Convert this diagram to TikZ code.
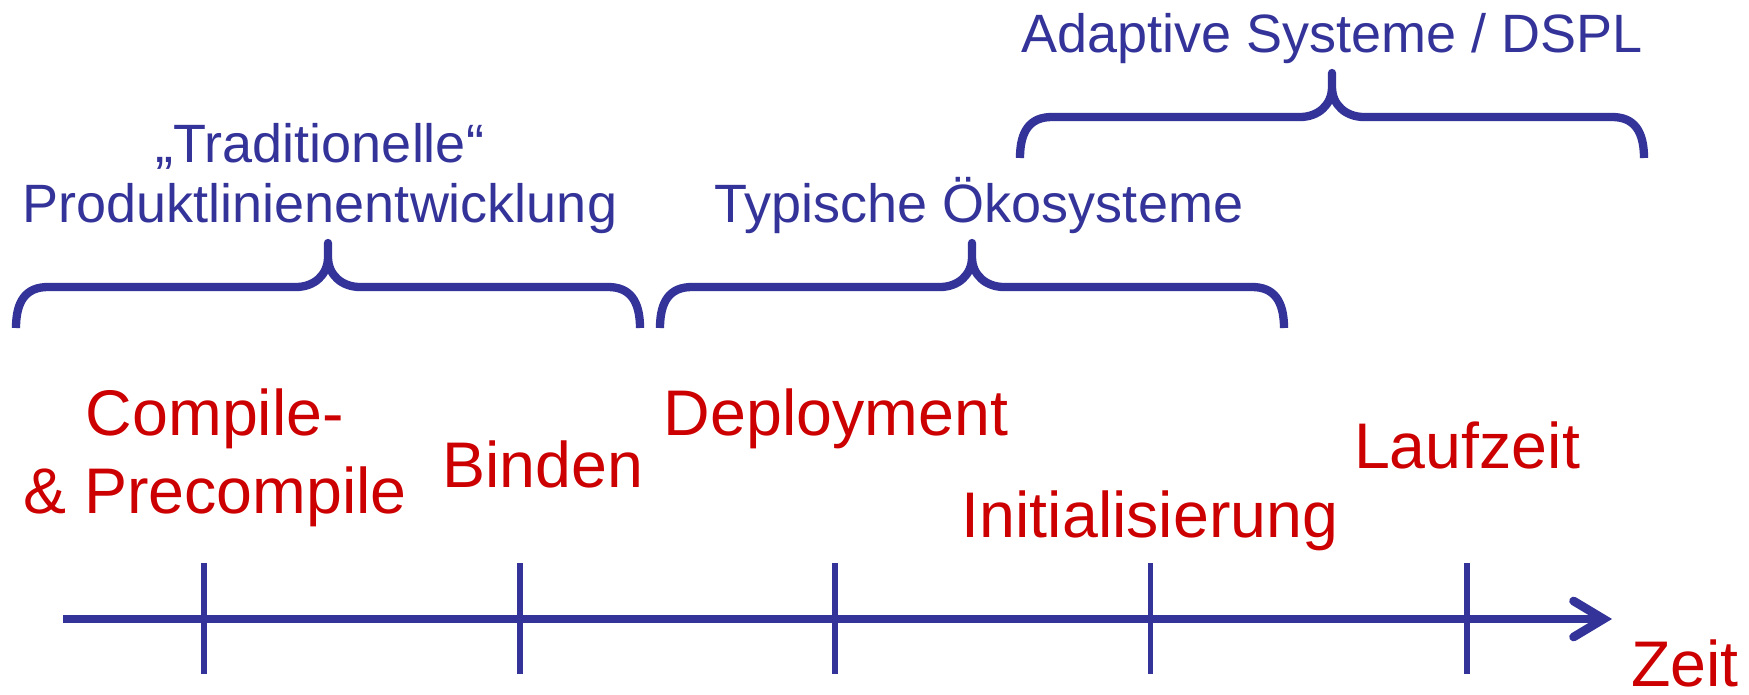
\documentclass[tikz,border=0pt]{standalone}
\usepackage{fontspec}
\setmainfont{Liberation Sans}
\usetikzlibrary{arrows.meta}
\definecolor{axisblue}{RGB}{51,51,153}
\definecolor{phasered}{RGB}{204,0,0}

\begin{document}
\begin{tikzpicture}[x=1pt,y=-1pt,
  phase/.style={text=phasered, font=\fontsize{64.5}{78}\selectfont,
    inner sep=0pt, anchor=base, align=center},
  scopelabel/.style={text=axisblue, font=\fontsize{54}{60}\selectfont,
    inner sep=0pt, anchor=base, align=center},
  axisline/.style={draw=axisblue, line width=8.7pt},
  tickline/.style={draw=axisblue, line width=5.5pt},
  bracestroke/.style={draw=axisblue, line width=8.3pt, line join=round},
  curlybrace/.pic={
    \draw[bracestroke]
      (-312,41) .. controls (-312,14) and (-302,0) .. (-280,0)
      -- (-32,0) .. controls (-14,0) and (0,-12) .. (0,-30)
      -- (0,-44) -- (0,-30)
      .. controls (0,-12) and (14,0) .. (32,0)
      -- (280,0) .. controls (302,0) and (312,14) .. (312,41);
  }]
  \useasboundingbox (0,0) rectangle (1749,694);

  % time axis with its ticks
  \coordinate (axstart) at (63,619);
  \coordinate (axend) at (1612,619);
  \draw[axisline, -{Straight Barb[length=30pt,width=36pt,line cap=round]}]
    (axstart) -- (axend);
  \foreach \tx in {204,520,835,1150.5,1467}
    \draw[tickline] (\tx,563) -- (\tx,674);

  % binding times (base = baseline of the last line)
  \node[phase] (comp) at (215,513) {Compile-\\\& Precompile};
  \node[phase] (bind) at (543,487) {Binden};
  \node[phase] (depl) at (836,435) {Deployment};
  \node[phase] (init) at (1150,537) {Initialisierung};
  \node[phase] (lauf) at (1467,468) {Laufzeit};
  \node[phase] (zeit) at (1685,686) {Zeit};

  % ranges covered by the approaches
  \pic at (328,287) {curlybrace};
  \pic at (972,287) {curlybrace};
  \pic at (1332,117) {curlybrace};

  \node[scopelabel] (trad) at (320,222) {„Traditionelle“\\Produktlinienentwicklung};
  \node[scopelabel] (oeko) at (979,222) {Typische Ökosysteme};
  \node[scopelabel] (adapt) at (1332,52) {Adaptive Systeme / DSPL};
\end{tikzpicture}
\end{document}
